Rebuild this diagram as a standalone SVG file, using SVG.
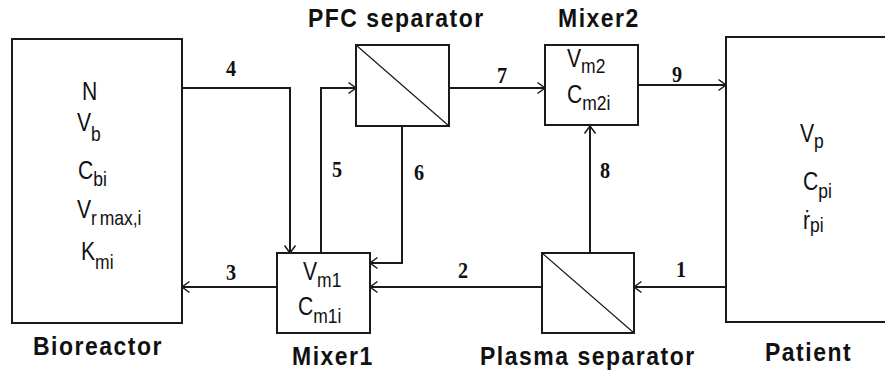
<svg xmlns="http://www.w3.org/2000/svg" width="885" height="370" viewBox="0 0 885 370">
<style>
.box{fill:#fff;stroke:#1a1a1a;stroke-width:2}
.diag{stroke:#1a1a1a;stroke-width:1.2;fill:none}
.con{fill:none;stroke:#1a1a1a;stroke-width:2;marker-end:url(#arr)}
.t{font-family:"Liberation Sans",Arial,sans-serif;font-size:23px;fill:#111}
.s{font-size:19px}
.lab{font-family:"Liberation Sans",Arial,sans-serif;font-size:23px;font-weight:bold;letter-spacing:1.5px;fill:#111}
.num{font-family:"Liberation Serif","Times New Roman",serif;font-size:23px;font-weight:bold;fill:#111;text-anchor:middle}
</style>
<defs>
<marker id="arr" viewBox="-10 -7 12 14" refX="0" refY="0" markerWidth="12" markerHeight="14" markerUnits="userSpaceOnUse" orient="auto">
<path d="M-7.5,-5.5 L0,0 L-7.5,5.5" fill="none" stroke="#1a1a1a" stroke-width="1.5"/>
</marker>
</defs>
<rect width="885" height="370" fill="#fff"/>
<g id="connectors">
<path class="con" d="M182,88 H290 V253"/>
<path class="con" d="M277,287 H182"/>
<path class="con" d="M321,253 V88 H356"/>
<path class="con" d="M402,126 V263 H370"/>
<path class="con" d="M542,287 H370"/>
<path class="con" d="M449,88 H545"/>
<path class="con" d="M638,85 H726"/>
<path class="con" d="M590,253 V126"/>
<path class="con" d="M726,287 H634"/>
<text class="num" transform="translate(231,76) scale(0.88,1)">4</text>
<text class="num" transform="translate(231,280) scale(0.88,1)">3</text>
<text class="num" transform="translate(337,177) scale(0.88,1)">5</text>
<text class="num" transform="translate(419,180) scale(0.88,1)">6</text>
<text class="num" transform="translate(502,83) scale(0.88,1)">7</text>
<text class="num" transform="translate(463,278) scale(0.88,1)">2</text>
<text class="num" transform="translate(677,82) scale(0.88,1)">9</text>
<text class="num" transform="translate(605,178) scale(0.88,1)">8</text>
<text class="num" transform="translate(681,277) scale(0.88,1)">1</text>
</g>
<g id="bioreactor">
<rect class="box" x="12" y="39" width="170" height="284"/>
<text class="t" transform="translate(82,100) scale(0.92,1.1)">N</text>
<text class="t" transform="translate(77,131) scale(0.92,1.1)">V<tspan class="s" dy="9">b</tspan></text>
<text class="t" transform="translate(78,179) scale(0.92,1.1)">C<tspan class="s" dy="6">bi</tspan></text>
<text class="t" transform="translate(77,218) scale(0.92,1.1)">V<tspan class="s" dy="6">r</tspan><tspan class="s" dx="3">max,i</tspan></text>
<text class="t" transform="translate(81,260) scale(0.92,1.1)">K<tspan class="s" dy="8">mi</tspan></text>
<text class="lab" transform="translate(33,355) scale(1,1.12)">Bioreactor</text>
</g>
<g id="mixer1">
<rect class="box" x="277" y="253" width="93" height="80"/>
<text class="t" transform="translate(303,280) scale(0.92,1.1)">V<tspan class="s" dy="6">m1</tspan></text>
<text class="t" transform="translate(298,315) scale(0.92,1.1)">C<tspan class="s" dy="7">m1i</tspan></text>
<text class="lab" transform="translate(292,365) scale(1,1.12)">Mixer1</text>
</g>
<g id="pfc-separator">
<rect class="box" x="356" y="45" width="93" height="81"/>
<path class="diag" d="M356,45 L449,126"/>
<text class="lab" transform="translate(308,27) scale(1,1.12)">PFC separator</text>
</g>
<g id="mixer2">
<rect class="box" x="545" y="45" width="93" height="80"/>
<text class="t" transform="translate(567,67) scale(0.92,1.1)">V<tspan class="s" dy="5">m2</tspan></text>
<text class="t" transform="translate(567,103) scale(0.92,1.1)">C<tspan class="s" dy="6">m2i</tspan></text>
<text class="lab" transform="translate(558,27) scale(1,1.12)">Mixer2</text>
</g>
<g id="plasma-separator">
<rect class="box" x="542" y="253" width="92" height="80"/>
<path class="diag" d="M542,253 L634,333"/>
<text class="lab" transform="translate(480,365) scale(1,1.12)">Plasma separator</text>
</g>
<g id="patient">
<rect class="box" x="726" y="37" width="175" height="285"/>
<text class="t" transform="translate(800,142) scale(0.92,1.1)">V<tspan class="s" dy="5">p</tspan></text>
<text class="t" transform="translate(803,190) scale(0.92,1.1)">C<tspan class="s" dy="7">pi</tspan></text>
<text class="t" transform="translate(803,229) scale(0.92,1.1)">ṙ<tspan class="s" dy="3">pi</tspan></text>
<text class="lab" transform="translate(765,361) scale(1,1.12)">Patient</text>
</g>
</svg>
